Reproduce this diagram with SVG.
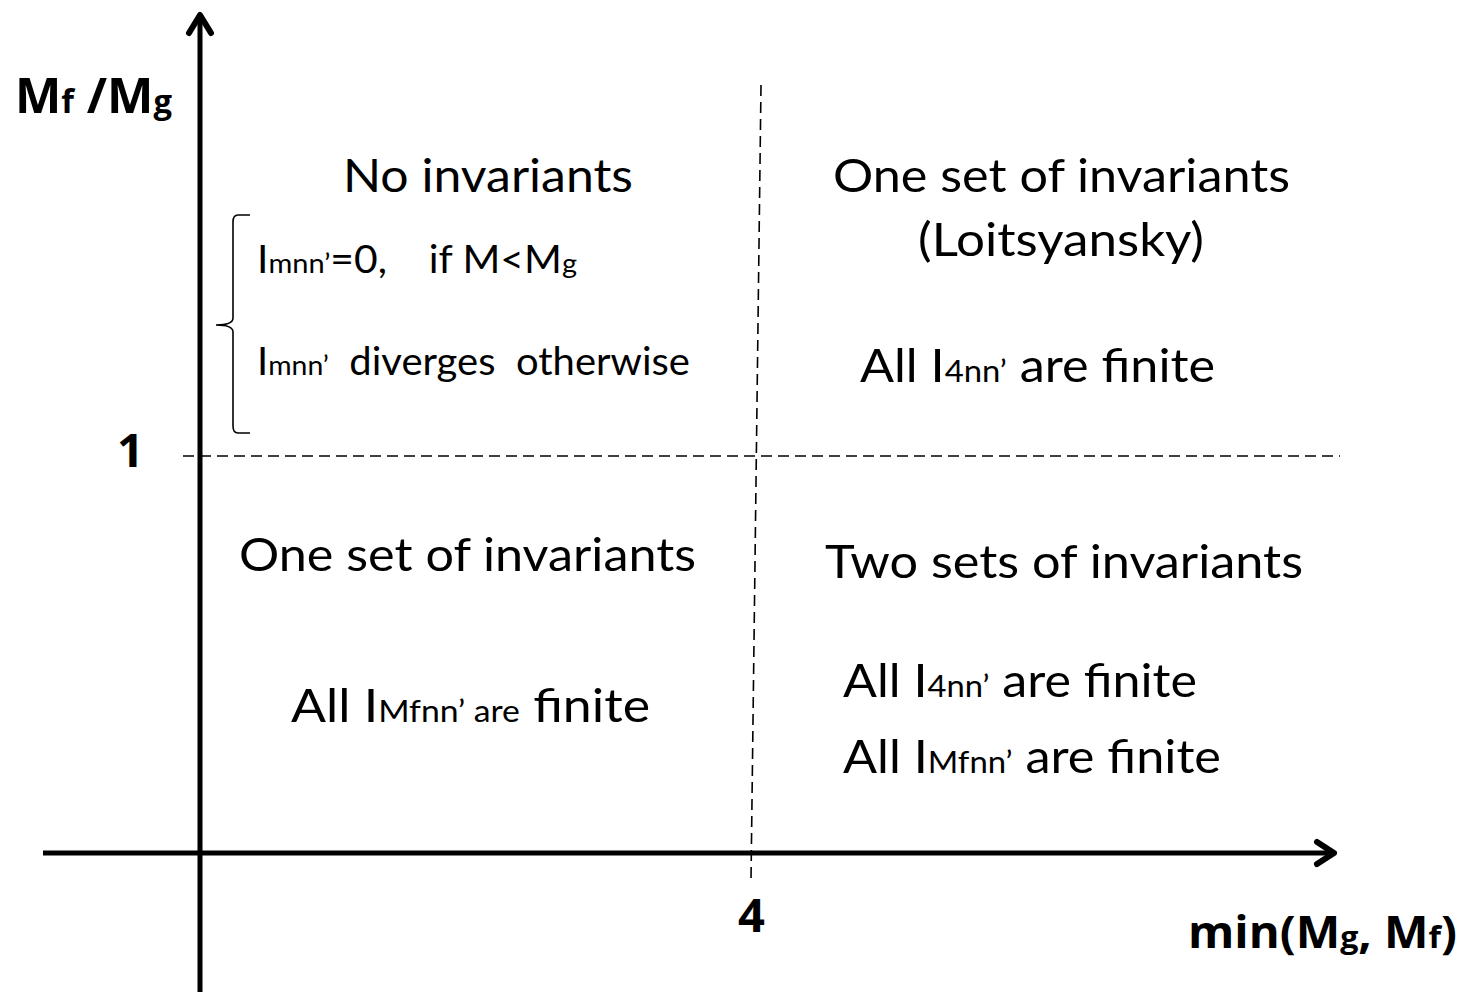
<svg xmlns="http://www.w3.org/2000/svg" width="1467" height="993" viewBox="0 0 1467 993">
<style>
.t{font-family:Lato,"Open Sans","Liberation Sans",sans-serif;fill:#000;white-space:pre}
.b{font-family:"Open Sans",Lato,"Liberation Sans",sans-serif;font-weight:bold;fill:#000;white-space:pre}
.ax{stroke:#000;stroke-width:5;fill:none}
.ah{stroke:#000;stroke-width:6;fill:none;stroke-linecap:round;stroke-linejoin:round}
.d{stroke:#000;stroke-width:1.6;stroke-dasharray:11,6;fill:none}
</style>
<rect width="1467" height="993" fill="#fff"/>
<g id="connectors">
<line class="ax" x1="200" y1="16" x2="200" y2="992"/>
<polyline class="ah" points="189,33 200,15 211,33"/>
<line class="ax" x1="43" y1="853" x2="1334" y2="853"/>
<polyline class="ah" points="1317,842 1334,853 1317,864"/>
<line class="d" x1="183" y1="456" x2="1340" y2="456"/>
<line class="d" x1="761" y1="85" x2="751" y2="880"/>
<path d="M250,215 L238,215 Q233,215 233,222 L233,318 Q233,325 216,325 Q233,325 233,332 L233,426 Q233,433 238,433 L250,433" stroke="#000" stroke-width="1.6" fill="none"/>
</g>
<g id="axis-labels">
<text class="b" x="15" y="113" font-size="48" textLength="157" lengthAdjust="spacingAndGlyphs">M<tspan font-size="32">f</tspan> /M<tspan font-size="32">g</tspan></text>
<text class="b" x="117" y="467" font-size="47">1</text>
<text class="b" x="738" y="932" font-size="47">4</text>
<text class="b" x="1188" y="948" font-size="44" textLength="269" lengthAdjust="spacingAndGlyphs">min(M<tspan font-size="30">g</tspan>, M<tspan font-size="30">f</tspan>)</text>
</g>
<g id="q-top-left">
<text class="t" x="343" y="192" font-size="46" textLength="290" lengthAdjust="spacingAndGlyphs">No invariants</text>
<text class="t" x="257" y="273" font-size="38" textLength="320" lengthAdjust="spacingAndGlyphs" xml:space="preserve">I<tspan font-size="27">mnn’</tspan>=0,    if M&lt;M<tspan font-size="27">g</tspan></text>
<text class="t" x="257" y="375" font-size="38" textLength="433" lengthAdjust="spacingAndGlyphs" xml:space="preserve">I<tspan font-size="27">mnn’</tspan>  diverges  otherwise</text>
</g>
<g id="q-top-right">
<text class="t" x="833" y="192" font-size="46" textLength="457" lengthAdjust="spacingAndGlyphs">One set of invariants</text>
<text class="t" x="918" y="256" font-size="46" textLength="286" lengthAdjust="spacingAndGlyphs">(Loitsyansky)</text>
<text class="t" x="860" y="382" font-size="46" textLength="355" lengthAdjust="spacingAndGlyphs">All I<tspan font-size="30">4nn’</tspan> are finite</text>
</g>
<g id="q-bottom-left">
<text class="t" x="239" y="571" font-size="46" textLength="457" lengthAdjust="spacingAndGlyphs">One set of invariants</text>
<text class="t" x="291" y="722" font-size="46" textLength="359" lengthAdjust="spacingAndGlyphs">All I<tspan font-size="30">Mfnn’ are</tspan> finite</text>
</g>
<g id="q-bottom-right">
<text class="t" x="825" y="578" font-size="46" textLength="478" lengthAdjust="spacingAndGlyphs">Two sets of invariants</text>
<text class="t" x="843" y="697" font-size="46" textLength="354" lengthAdjust="spacingAndGlyphs">All I<tspan font-size="30">4nn’</tspan> are finite</text>
<text class="t" x="843" y="773" font-size="46" textLength="378" lengthAdjust="spacingAndGlyphs">All I<tspan font-size="30">Mfnn’</tspan> are finite</text>
</g>
</svg>
